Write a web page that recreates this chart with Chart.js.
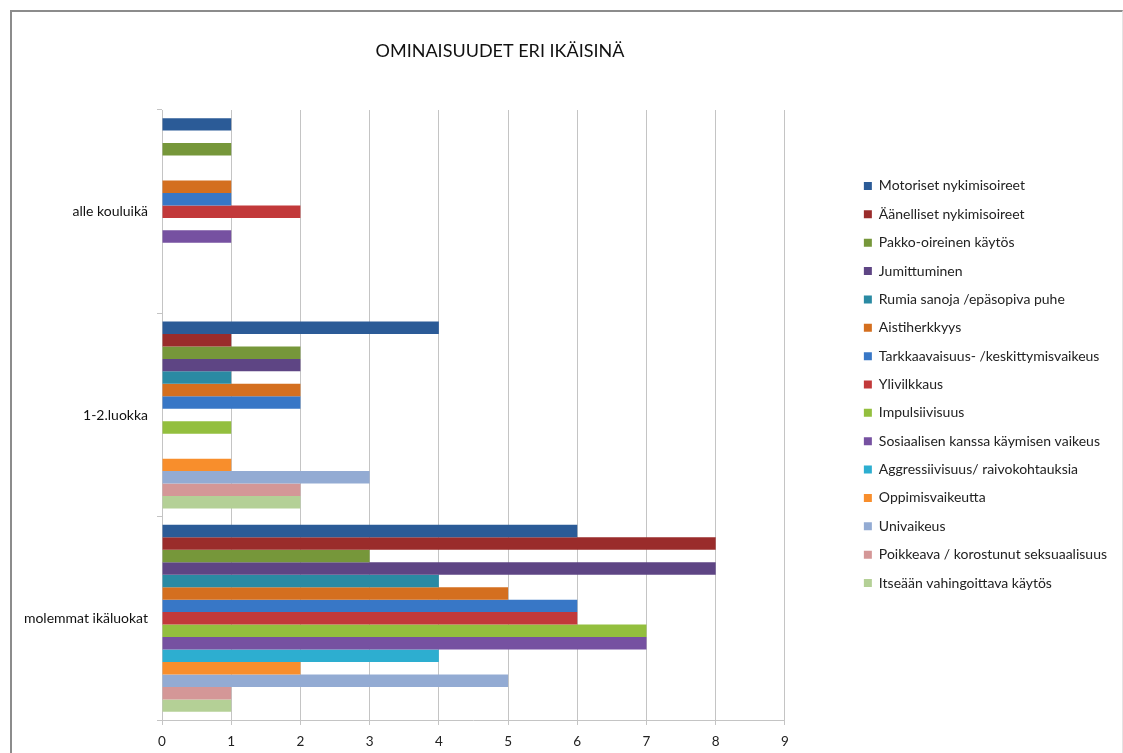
<!DOCTYPE html>
<html><head><meta charset="utf-8">
<script src="https://cdn.jsdelivr.net/npm/chart.js@4/dist/chart.umd.min.js"></script>
<style>
html,body{margin:0;padding:0;background:#fff;}
#wrap{position:relative;width:1123px;height:753px;overflow:hidden;background:#fff;}
#c{position:absolute;left:0;top:0;}
#frame{position:absolute;left:10px;top:10px;width:1110px;height:800px;border-left:2px solid #8c8c8c;border-top:2px solid #8c8c8c;border-right:1px solid #e4e4e4;pointer-events:none;}
</style></head><body>
<div id="wrap"><canvas id="c" width="1123" height="753"></canvas><div id="frame"></div></div>
<script>
const chartTitle = 'OMINAISUUDET ERI IKÄISINÄ';
const categories = ['alle kouluikä', '1-2.luokka', 'molemmat ikäluokat'];
const seriesNames = [
  'Motoriset nykimisoireet',
  'Äänelliset nykimisoireet',
  'Pakko-oireinen käytös',
  'Jumittuminen',
  'Rumia sanoja /epäsopiva puhe',
  'Aistiherkkyys',
  'Tarkkaavaisuus- /keskittymisvaikeus',
  'Ylivilkkaus',
  'Impulsiivisuus',
  'Sosiaalisen kanssa käymisen vaikeus',
  'Aggressiivisuus/ raivokohtauksia',
  'Oppimisvaikeutta',
  'Univaikeus',
  'Poikkeava / korostunut seksuaalisuus',
  'Itseään vahingoittava käytös'
];
const seriesColors = [
  '#2B5B97', '#9A2C2B', '#76973A', '#5E4584', '#2A8AA3',
  '#D46F1F', '#3877C6', '#C2393A', '#93BF3E', '#7651A1',
  '#2DAED0', '#F88E2C', '#93ABD3', '#D49797', '#B4D096'
];
// values per category, in series order
const alleKouluika = [1, 0, 1, 0, 0, 1, 1, 2, 0, 1, 0, 0, 0, 0, 0];
const luokka12     = [4, 1, 2, 2, 1, 2, 2, 0, 1, 0, 0, 1, 3, 2, 2];
const molemmat     = [6, 8, 3, 8, 4, 5, 6, 6, 7, 7, 4, 2, 5, 1, 1];
const xTickLabels = ['0', '1', '2', '3', '4', '5', '6', '7', '8', '9'];

const datasets = seriesNames.map((name, i) => ({
  label: name,
  data: [alleKouluika[i], luokka12[i], molemmat[i]],
  backgroundColor: seriesColors[i],
  borderWidth: 0,
  barPercentage: 1,
  categoryPercentage: 0.92
}));

const FONT = 'Lato';

const titlePlugin = {
  id: 'excelTitle',
  afterDraw(chart) {
    const ctx = chart.ctx;
    ctx.save();
    ctx.font = '18px ' + FONT;
    ctx.fillStyle = '#111';
    ctx.textAlign = 'center';
    ctx.textBaseline = 'middle';
    ctx.fillText(chartTitle, 500, 51);
    ctx.restore();
  }
};

new Chart(document.getElementById('c'), {
  type: 'bar',
  data: { labels: categories, datasets },
  plugins: [titlePlugin],
  options: {
    indexAxis: 'y',
    responsive: false,
    animation: false,
    layout: { padding: { top: 16, right: 6, bottom: 0, left: 0 } },
    scales: {
      x: {
        type: 'linear', position: 'bottom', min: 0, max: 9,
        ticks: { stepSize: 1, color: '#222', font: { family: FONT, size: 13.5 }, padding: 9,
          callback: (v, idx) => xTickLabels[idx] },
        grid: { color: '#c4c4c4', tickLength: 5, lineWidth: 1 },
        border: { color: '#c4c4c4' },
        afterFit: s => { s.height = 33; }
      },
      y: {
        type: 'category',
        grid: { drawOnChartArea: false, tickLength: 5, color: '#c4c4c4', offset: true },
        border: { color: '#c4c4c4' },
        ticks: { color: '#111', font: { family: FONT, size: 14 }, padding: 9 },
        afterFit: s => { s.width = 162; }
      },
      xTop: {
        type: 'linear', position: 'top', display: true,
        grid: { display: false }, ticks: { display: false }, border: { display: false },
        afterFit: s => { s.height = 94; }
      },
      yGap: {
        type: 'linear', position: 'right', axis: 'y', display: true,
        grid: { display: false }, ticks: { display: false }, border: { display: false },
        afterFit: s => { s.width = 64.6; }
      }
    },
    plugins: {
      legend: {
        position: 'right', align: 'center', maxWidth: 320,
        labels: { boxWidth: 8, boxHeight: 8, padding: 14.36, color: '#222',
          font: { family: FONT, size: 14 } }
      },
      tooltip: { enabled: false },
      title: { display: false }
    }
  }
});
</script>
</body></html>
